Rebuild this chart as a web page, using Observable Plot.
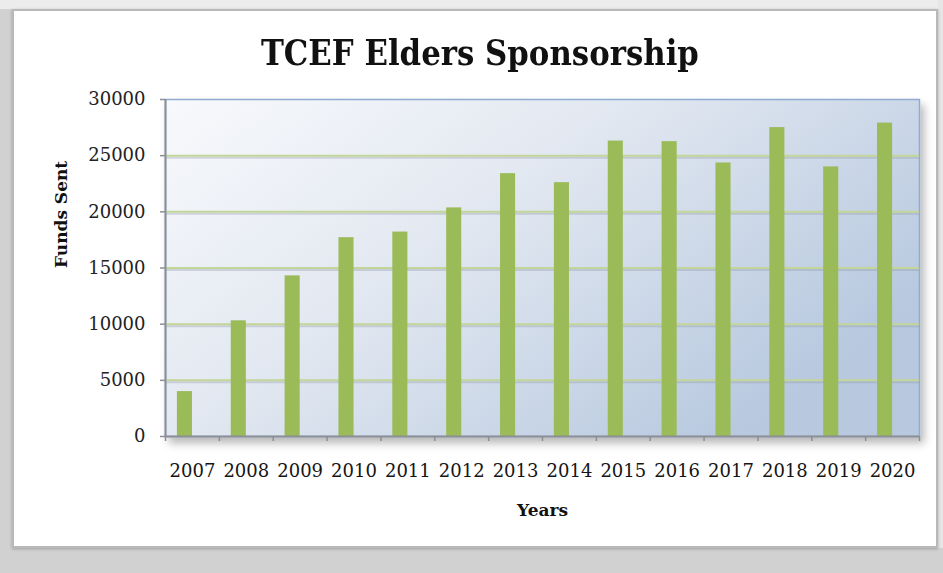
<!DOCTYPE html>
<html>
<head>
<meta charset="utf-8">
<script src="https://cdn.jsdelivr.net/npm/d3@7"></script>
<script src="https://cdn.jsdelivr.net/npm/@observablehq/plot@0.6"></script>
<style>
  html, body { margin: 0; padding: 0; }
  body { width: 943px; height: 573px; background: #d1d1d1; position: relative; overflow: hidden; font-family: "DejaVu Serif", serif; }
  #topstrip { position: absolute; left: 0; top: 0; width: 943px; height: 9px; background: #ececec; }
  #rightstrip { position: absolute; left: 938px; top: 0; width: 5px; height: 548px; background: #e6e6e6; }
  #panel { position: absolute; left: 12px; top: 9px; width: 926px; height: 539px; background: #fff; border: 2px solid #b9b9b9; box-sizing: border-box; box-shadow: 0 1px 3px rgba(0,0,0,0.25); }
  #title { position: absolute; left: 0; top: 34px; width: 960px; text-align: center; font-family: "DejaVu Serif", serif; font-weight: bold; font-size: 36px; line-height: 36px; color: #111; white-space: nowrap; }
  #title span { display: inline-block; transform-origin: center center; }
  #chart { position: absolute; left: 0; top: 85px; }
</style>
</head>
<body>
<div id="topstrip"></div>
<div id="rightstrip"></div>
<div id="panel"></div>
<div id="title"><span>TCEF Elders Sponsorship</span></div>
<div id="chart"></div>
<script>
// ---- data ----
const years = ["2007", "2008", "2009", "2010", "2011", "2012", "2013", "2014", "2015", "2016", "2017", "2018", "2019", "2020"];
const funds = [4000, 10300, 14300, 17700, 18200, 20350, 23400, 22600, 26300, 26250, 24350, 27500, 24000, 27900];
const yTicks = [0, 5000, 10000, 15000, 20000, 25000, 30000];
const xTitle = "Years";
const yTitle = "Funds Sent";

const data = years.map((year, i) => ({year, value: funds[i]}));
const gridVals = yTicks.filter(v => v > 0 && v < 30000);

const W = 943, H = 450, mL = 165, mR = 24, mT = 14, mB = 99;
const step = (W - mL - mR) / years.length;
const axisGrey = "#8c8f95";

const chart = Plot.plot({
  width: W,
  height: H,
  marginLeft: mL,
  marginRight: mR,
  marginTop: mT,
  marginBottom: mB,
  style: {fontFamily: "DejaVu Serif", fontSize: "18px", color: "#1a1a1a", background: "transparent", overflow: "visible"},
  x: {domain: years, paddingInner: 0.72, paddingOuter: 0.36, round: false, axis: null},
  y: {domain: [0, 30000], axis: null},
  marks: [
    Plot.frame({fill: "url(#plotBg)", stroke: "#8fabd0", strokeWidth: 1.5}),
    Plot.ruleY(gridVals, {stroke: "#9099a6", strokeOpacity: 0.35, strokeWidth: 2, dy: 2}),
    Plot.ruleY(gridVals, {stroke: "#c3d699", strokeWidth: 2}),
    Plot.barY(data, {x: "year", y: "value", fill: "#9bbb59", dx: -7.5}),
    // axis lines
    Plot.ruleY([0], {stroke: axisGrey, strokeWidth: 2}),
    Plot.ruleX([years[0]], {dx: -step / 2, stroke: axisGrey, strokeWidth: 2}),
    // y axis ticks & labels
    Plot.axisY(yTicks, {anchor: "left", tickSize: 5, tickPadding: 15, tickFormat: d => String(d), label: null, stroke: axisGrey, strokeWidth: 1.5, fill: "#222", fontSize: 18}),
    // x axis ticks at category boundaries
    Plot.axisX(years, {anchor: "bottom", tickSize: 5, dx: -step / 2, tickFormat: () => "", label: null, stroke: axisGrey, strokeWidth: 1.5}),
    Plot.axisX([years[years.length - 1]], {anchor: "bottom", tickSize: 5, dx: step / 2, tickFormat: () => "", label: null, stroke: axisGrey, strokeWidth: 1.5}),
    // x tick labels
    Plot.axisX(years, {anchor: "bottom", tickSize: 0, tickPadding: 28, label: null, fill: "#151515", fontSize: 18}),
    // axis titles
    Plot.text([xTitle], {frameAnchor: "bottom", dy: 79.5, fontWeight: "bold", fontSize: 17, fill: "#111"}),
    Plot.text([yTitle], {frameAnchor: "left", rotate: -90, dx: -104, fontWeight: "bold", fontSize: 17, fill: "#111"})
  ]
});

// gradient + shadow defs
const svg = d3.select(chart);
const defs = svg.insert("defs", ":first-child");
const grad = defs.append("linearGradient").attr("id", "plotBg")
  .attr("x1", "0").attr("y1", "0").attr("x2", "1").attr("y2", "0.6");
grad.append("stop").attr("offset", "0").attr("stop-color", "#f8f9fc");
grad.append("stop").attr("offset", "0.45").attr("stop-color", "#e2e8f1");
grad.append("stop").attr("offset", "1").attr("stop-color", "#b7c8df");
const filt = defs.append("filter").attr("id", "plotShadow").attr("x", "-5%").attr("y", "-5%").attr("width", "115%").attr("height", "120%");
filt.append("feDropShadow").attr("dx", 4).attr("dy", 6).attr("stdDeviation", 4).attr("flood-color", "#000").attr("flood-opacity", 0.28);
svg.select('[aria-label="frame"]').attr("filter", "url(#plotShadow)");

document.getElementById("chart").appendChild(chart);

// fit title width to reference proportions
const span = document.querySelector("#title span");
const w = span.getBoundingClientRect().width;
span.style.transform = `scaleX(${438 / w})`;
</script>
</body>
</html>
